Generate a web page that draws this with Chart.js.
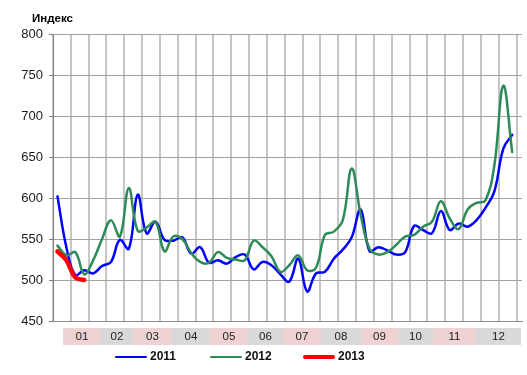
<!DOCTYPE html>
<html>
<head>
<meta charset="utf-8">
<script src="https://cdn.jsdelivr.net/npm/chart.js@4.4.1/dist/chart.umd.min.js"></script>
<style>
  html, body { margin:0; padding:0; background:#ffffff; }
  body { width:527px; height:375px; position:relative; overflow:hidden; font-family:"Liberation Sans", Arial, sans-serif; }
  #wrap { position:absolute; left:0; top:0; width:527px; height:375px; }
  #title { position:absolute; left:32px; top:12px; font-weight:bold; font-size:11.5px; line-height:13px; color:#000; }
  .month { position:absolute; top:328px; height:17px; line-height:17px; font-size:11.5px; color:#222; text-align:center; }
  .leg { position:absolute; top:349px; height:14px; line-height:14px; font-size:12px; font-weight:bold; color:#111; white-space:nowrap; }
  .leg span.sw { display:inline-block; width:32px; vertical-align:middle; margin-right:3px; }
</style>
</head>
<body>
<div id="wrap"><canvas id="c"></canvas></div>
<div id="title">Индекс</div>
<div id="months"></div>
<div id="legend"></div>
<script>
// ---- data ----
const weeks = [1,2,3,4,5,6,7,8,9,10,11,12,13,14,15,16,17,18,19,20,21,22,23,24,25,26,
               27,28,29,30,31,32,33,34,35,36,37,38,39,40,41,42,43,44,45,46,47,48,49,50,51,52];
const monthLabels = ["01","02","03","04","05","06","07","08","09","10","11","12"];
const seriesNames = ["2011","2012","2013"];
const values2011 = [602,540,506,512,508,517,522,549,538,604,557,571,549,548,552,532,540,521,524,520,
                    528,531,513,522,518,507,498,526,486,508,510,526,537,552,586,535,540,536,531,534,
                    566,561,557,584,561,569,565,573,588,608,660,677];
const values2012 = [542,530,534,507,524,550,573,553,612,560,564,571,535,553,550,533,522,521,534,527,
                    525,524,548,540,529,510,518,530,512,515,555,559,573,636,580,538,531,534,543,553,
                    555,565,571,596,575,562,586,594,597,640,737,656];
const values2013 = [535,524,503,500];
const yTicks = [450,500,550,600,650,700,750,800];

// ---- style / layout ----
const colors = ["#0000ff", "#2e8b57", "#ff0000"];
const widths = [2.5, 2.5, 4.5];
const monthEdges = [63, 101, 133, 172, 210, 248, 283, 321, 361, 398, 433, 476, 521];
const monthFills = ["#efd2d2", "#d9d9d9"];
const legendLeft = [115, 210, 303];

function pts(vals) { return vals.map((v, i) => ({ x: weeks[i] - 0.5, y: v })); }

const allVals = [values2011, values2012, values2013];
const datasets = allVals.map((vals, k) => ({
  label: seriesNames[k],
  data: pts(vals),
  borderColor: colors[k],
  backgroundColor: colors[k],
  borderWidth: widths[k],
  pointRadius: 0,
  tension: 0.4,
  fill: false,
  borderCapStyle: "round",
  borderJoinStyle: "round",
  order: 2 - k
}));

new Chart(document.getElementById("c"), {
  type: "line",
  data: { datasets },
  options: {
    responsive: true,
    maintainAspectRatio: false,
    animation: false,
    devicePixelRatio: 1,
    layout: { padding: { top: 34, right: 5, bottom: 54, left: 0 } },
    plugins: { legend: { display: false }, tooltip: { enabled: false }, title: { display: false } },
    scales: {
      x: {
        type: "linear",
        min: 0,
        max: 52.6,
        ticks: { display: false, stepSize: 2, includeBounds: false },
        grid: { color: "#c6c6c6", lineWidth: 2, drawTicks: false },
        border: { display: true, color: "#8c8c8c", width: 1 }
      },
      y: {
        type: "linear",
        min: yTicks[0],
        max: yTicks[yTicks.length - 1],
        afterBuildTicks: (s) => { s.ticks = yTicks.map(v => ({ value: v })); },
        afterFit: (s) => { s.width = 53; },
        ticks: { padding: 6, color: "#1a1a1a", font: { family: "'Liberation Sans', Arial, sans-serif", size: 13 } },
        grid: { color: "#a3a3a3", lineWidth: 1, tickLength: 4, tickColor: "#7f7f7f" },
        border: { display: true, color: "#7f7f7f", width: 1 }
      }
    }
  }
});

// month label row
const mBox = document.getElementById("months");
monthLabels.forEach((m, i) => {
  const d = document.createElement("div");
  d.className = "month";
  d.style.left = monthEdges[i] + "px";
  d.style.width = (monthEdges[i + 1] - monthEdges[i]) + "px";
  d.style.background = monthFills[i % 2];
  d.textContent = m;
  mBox.appendChild(d);
});

// legend
const lBox = document.getElementById("legend");
seriesNames.forEach((n, k) => {
  const d = document.createElement("div");
  d.className = "leg";
  d.style.left = legendLeft[k] + "px";
  const sw = document.createElement("span");
  sw.className = "sw";
  sw.style.height = (k === 2 ? 4 : 2.5) + "px";
  sw.style.background = colors[k];
  sw.style.borderRadius = "2px";
  d.appendChild(sw);
  d.appendChild(document.createTextNode(n));
  lBox.appendChild(d);
});
</script>
</body>
</html>
